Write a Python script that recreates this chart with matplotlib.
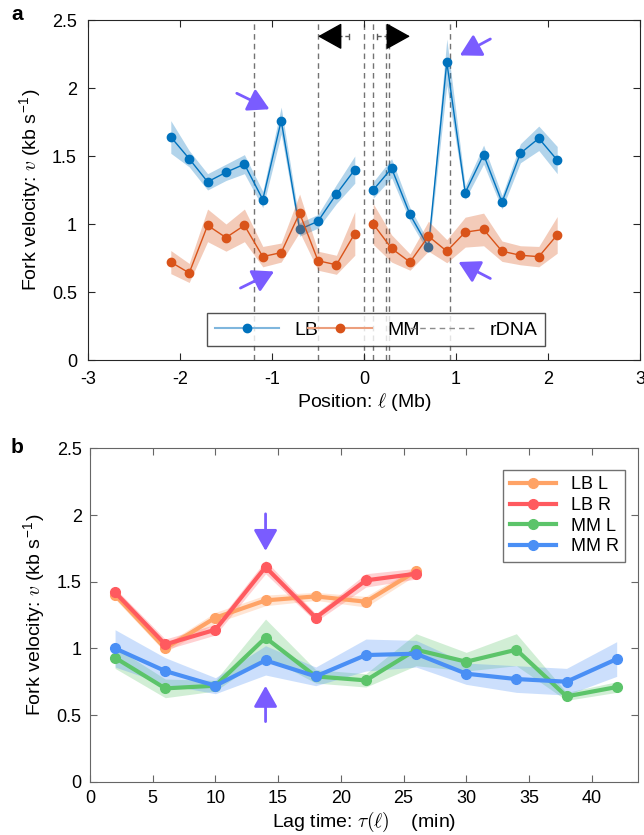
import numpy as np
import matplotlib
matplotlib.use("Agg")
import matplotlib.pyplot as plt
from matplotlib.lines import Line2D
from matplotlib.ticker import FuncFormatter

plt.rcParams['font.family'] = ['Liberation Sans', 'DejaVu Sans']
plt.rcParams['axes.unicode_minus'] = False
plt.rcParams['mathtext.fontset'] = 'cm'

# ---- panel a: fork velocity vs position (left arm | right arm) ----
pos_l = [-2.1, -1.9, -1.7, -1.5, -1.3, -1.1, -0.9, -0.7, -0.5, -0.3, -0.1]
pos_r = [0.1, 0.3, 0.5, 0.7, 0.9, 1.1, 1.3, 1.5, 1.7, 1.9, 2.1]
lb_l = [1.64, 1.48, 1.31, 1.38, 1.44, 1.18, 1.76, 0.96, 1.02, 1.22, 1.40]
lb_r = [1.25, 1.41, 1.07, 0.83, 2.19, 1.23, 1.51, 1.16, 1.52, 1.63, 1.47]
lb_el = [0.12, 0.06, 0.06, 0.06, 0.07, 0.06, 0.10, 0.05, 0.05, 0.07, 0.10]
lb_er = [0.06, 0.07, 0.05, 0.04, 0.17, 0.05, 0.07, 0.05, 0.07, 0.09, 0.10]
mm_l = [0.72, 0.64, 0.99, 0.90, 0.99, 0.76, 0.79, 1.08, 0.73, 0.70, 0.93]
mm_r = [1.00, 0.82, 0.72, 0.91, 0.80, 0.94, 0.96, 0.80, 0.77, 0.76, 0.92]
mm_el = [0.085, 0.07, 0.12, 0.10, 0.12, 0.075, 0.07, 0.14, 0.07, 0.07, 0.16]
mm_er = [0.15, 0.10, 0.06, 0.11, 0.085, 0.11, 0.12, 0.075, 0.07, 0.075, 0.135]
rdna = [-1.2, -0.5, 0.0, 0.1, 0.235, 0.27, 0.935]

# ---- panel b: fork velocity vs lag time ----
lag_lb = [2, 6, 10, 14, 18, 22, 26]
lag_mm = [2, 6, 10, 14, 18, 22, 26, 30, 34, 38, 42]
lb_L = [1.40, 1.00, 1.23, 1.36, 1.39, 1.35, 1.58]
lb_L_e = [0.03, 0.03, 0.04, 0.04, 0.03, 0.04, 0.03]
lb_R = [1.42, 1.03, 1.14, 1.61, 1.23, 1.51, 1.56]
lb_R_e = [0.03, 0.04, 0.04, 0.05, 0.03, 0.05, 0.04]
mm_L = [0.93, 0.70, 0.72, 1.08, 0.79, 0.76, 0.99, 0.90, 0.99, 0.64, 0.71]
mm_L_e = [0.08, 0.07, 0.04, 0.14, 0.05, 0.05, 0.12, 0.07, 0.12, 0.03, 0.04]
mm_R = [1.00, 0.83, 0.72, 0.91, 0.79, 0.95, 0.96, 0.81, 0.77, 0.75, 0.92]
mm_R_e = [0.14, 0.10, 0.06, 0.11, 0.07, 0.12, 0.10, 0.08, 0.10, 0.10, 0.13]

blue, orange = "#0072BD", "#D95319"
purple = "#7a5cff"
fmt = FuncFormatter(lambda v, _: f"{v:g}")
ylab = r"Fork velocity: $v$ (kb s$^{\mathregular{-1}}$)"

fig = plt.figure(figsize=(6.44, 8.35), dpi=100)

# ================= panel a =================
ax = fig.add_axes([88 / 644, 1 - 360 / 835, 552 / 644, 340 / 835])
for xs, ys, es in [(pos_l, lb_l, lb_el), (pos_r, lb_r, lb_er)]:
    xs, ys, es = np.array(xs), np.array(ys), np.array(es)
    ax.fill_between(xs, ys - es, ys + es, color=blue, alpha=0.3, lw=0, zorder=2)
    ax.plot(xs, ys, "-o", color=blue, lw=1, ms=6, zorder=3)
for xs, ys, es in [(pos_l, mm_l, mm_el), (pos_r, mm_r, mm_er)]:
    xs, ys, es = np.array(xs), np.array(ys), np.array(es)
    ax.fill_between(xs, ys - es, ys + es, color=orange, alpha=0.3, lw=0, zorder=4)
    ax.plot(xs, ys, "-o", color=orange, lw=1, ms=6, zorder=5)
for x in rdna:
    ax.axvline(x, color="0.45", ls=(0, (4, 3)), lw=1, zorder=1)

# direction arrows on top
ya = 2.38
head = "-|>,head_length=0.9,head_width=0.5"
ax.plot([-0.16, -0.45], [ya, ya], ls=(0, (3, 2)), color="0.35", lw=1)
ax.plot([-0.16, -0.16], [ya - 0.02, ya + 0.02], color="0.35", lw=1)
ax.annotate("", xy=(-0.53, ya), xytext=(-0.38, ya),
            arrowprops=dict(arrowstyle=head, color="k", lw=1, mutation_scale=17))
ax.plot([0.14, 0.45], [ya, ya], ls=(0, (3, 2)), color="0.35", lw=1)
ax.plot([0.14, 0.14], [ya - 0.02, ya + 0.02], color="0.35", lw=1)
ax.annotate("", xy=(0.53, ya), xytext=(0.38, ya),
            arrowprops=dict(arrowstyle=head, color="k", lw=1, mutation_scale=17))

# highlight arrows
for tip, tail in [((-1.0, 1.835), (-1.41, 1.97)), ((1.015, 2.23), (1.40, 2.37)),
                  ((-0.95, 0.66), (-1.37, 0.52)), ((1.0, 0.73), (1.40, 0.59))]:
    ax.annotate("", xy=tip, xytext=tail, zorder=6,
                arrowprops=dict(arrowstyle="-|>,head_length=0.8,head_width=0.45",
                                color=purple, lw=2, mutation_scale=16))

ax.set_xlim(-3, 3)
ax.set_ylim(0, 2.5)
ax.set_xticks(np.arange(-3, 4, 1))
ax.set_yticks(np.arange(0, 2.6, 0.5))
ax.yaxis.set_major_formatter(fmt)
ax.tick_params(direction="in", top=True, right=True, length=5, labelsize=13,
               color="0.15", pad=8)
for s in ax.spines.values():
    s.set_color("0.15")
ax.set_xlabel(r"Position: $\ell$ (Mb)", fontsize=14, labelpad=2)
ax.set_ylabel(ylab, fontsize=14, labelpad=6)

handles = [Line2D([], [], color="#7fb6dd", marker="o", mfc=blue, mec=blue, ms=6, lw=1.5),
           Line2D([], [], color="#ec9f7d", marker="o", mfc=orange, mec=orange, ms=6, lw=1.5),
           Line2D([], [], color="0.55", ls=(0, (4, 3)), lw=1)]
leg = ax.legend(handles, ["LB", "MM", "rDNA"], ncol=3, loc="lower left",
                bbox_to_anchor=(0.216, 0.04, 0.612, 0.12), mode="expand",
                fontsize=14, frameon=True, fancybox=False, edgecolor="0.15",
                handlelength=3.3, columnspacing=1.0, borderaxespad=0)
leg.get_frame().set_linewidth(1)
leg.set_zorder(7)

fig.text(17 / 644, 1 - 15 / 835, "a", fontsize=15, fontweight="bold", va="center", ha="center")

# ================= panel b =================
bx = fig.add_axes([90 / 644, 1 - 781.7 / 835, 548 / 644, 333.3 / 835])
series = [("LB L", lag_lb, lb_L, lb_L_e, "#ffa366"),
          ("LB R", lag_lb, lb_R, lb_R_e, "#ff5a5f"),
          ("MM L", lag_mm, mm_L, mm_L_e, "#5cc46a"),
          ("MM R", lag_mm, mm_R, mm_R_e, "#4a8ff5")]
for i, (lab, xs, ys, es, c) in enumerate(series):
    xs, ys, es = np.array(xs), np.array(ys), np.array(es)
    bx.fill_between(xs, ys - es, ys + es, color=c, alpha=0.28, lw=0, zorder=2 + i)
    bx.plot(xs, ys, "-o", color=c, lw=3, ms=7, label=lab, zorder=6 + i)

bx.annotate("", xy=(14, 1.71), xytext=(14, 2.03), zorder=10,
            arrowprops=dict(arrowstyle="-|>,head_length=0.8,head_width=0.45",
                            color=purple, lw=2, mutation_scale=16))
bx.annotate("", xy=(14, 0.74), xytext=(14, 0.43), zorder=10,
            arrowprops=dict(arrowstyle="-|>,head_length=0.8,head_width=0.45",
                            color=purple, lw=2, mutation_scale=16))

bx.set_xlim(0, 43.7)
bx.set_ylim(0, 2.5)
bx.set_xticks(np.arange(0, 41, 5))
bx.set_yticks(np.arange(0, 2.6, 0.5))
bx.yaxis.set_major_formatter(fmt)
bx.tick_params(direction="in", top=True, right=True, length=5, labelsize=13,
               color="0.4", pad=6)
for s in bx.spines.values():
    s.set_color("0.4")
bx.set_xlabel(r"Lag time: $\tau(\ell)$    (min)", fontsize=14, labelpad=2)
bx.set_ylabel(ylab, fontsize=14, labelpad=6)
lg = bx.legend(loc="upper left", bbox_to_anchor=(0.754, 0.935), fontsize=13,
               frameon=True, fancybox=False, edgecolor="0.3", handlelength=2.6,
               borderaxespad=0, labelspacing=0.2, borderpad=0.35)
lg.get_frame().set_linewidth(1)

fig.text(17 / 644, 1 - 447 / 835, "b", fontsize=15, fontweight="bold", va="center", ha="center")

fig.savefig("out.png", dpi=100)
